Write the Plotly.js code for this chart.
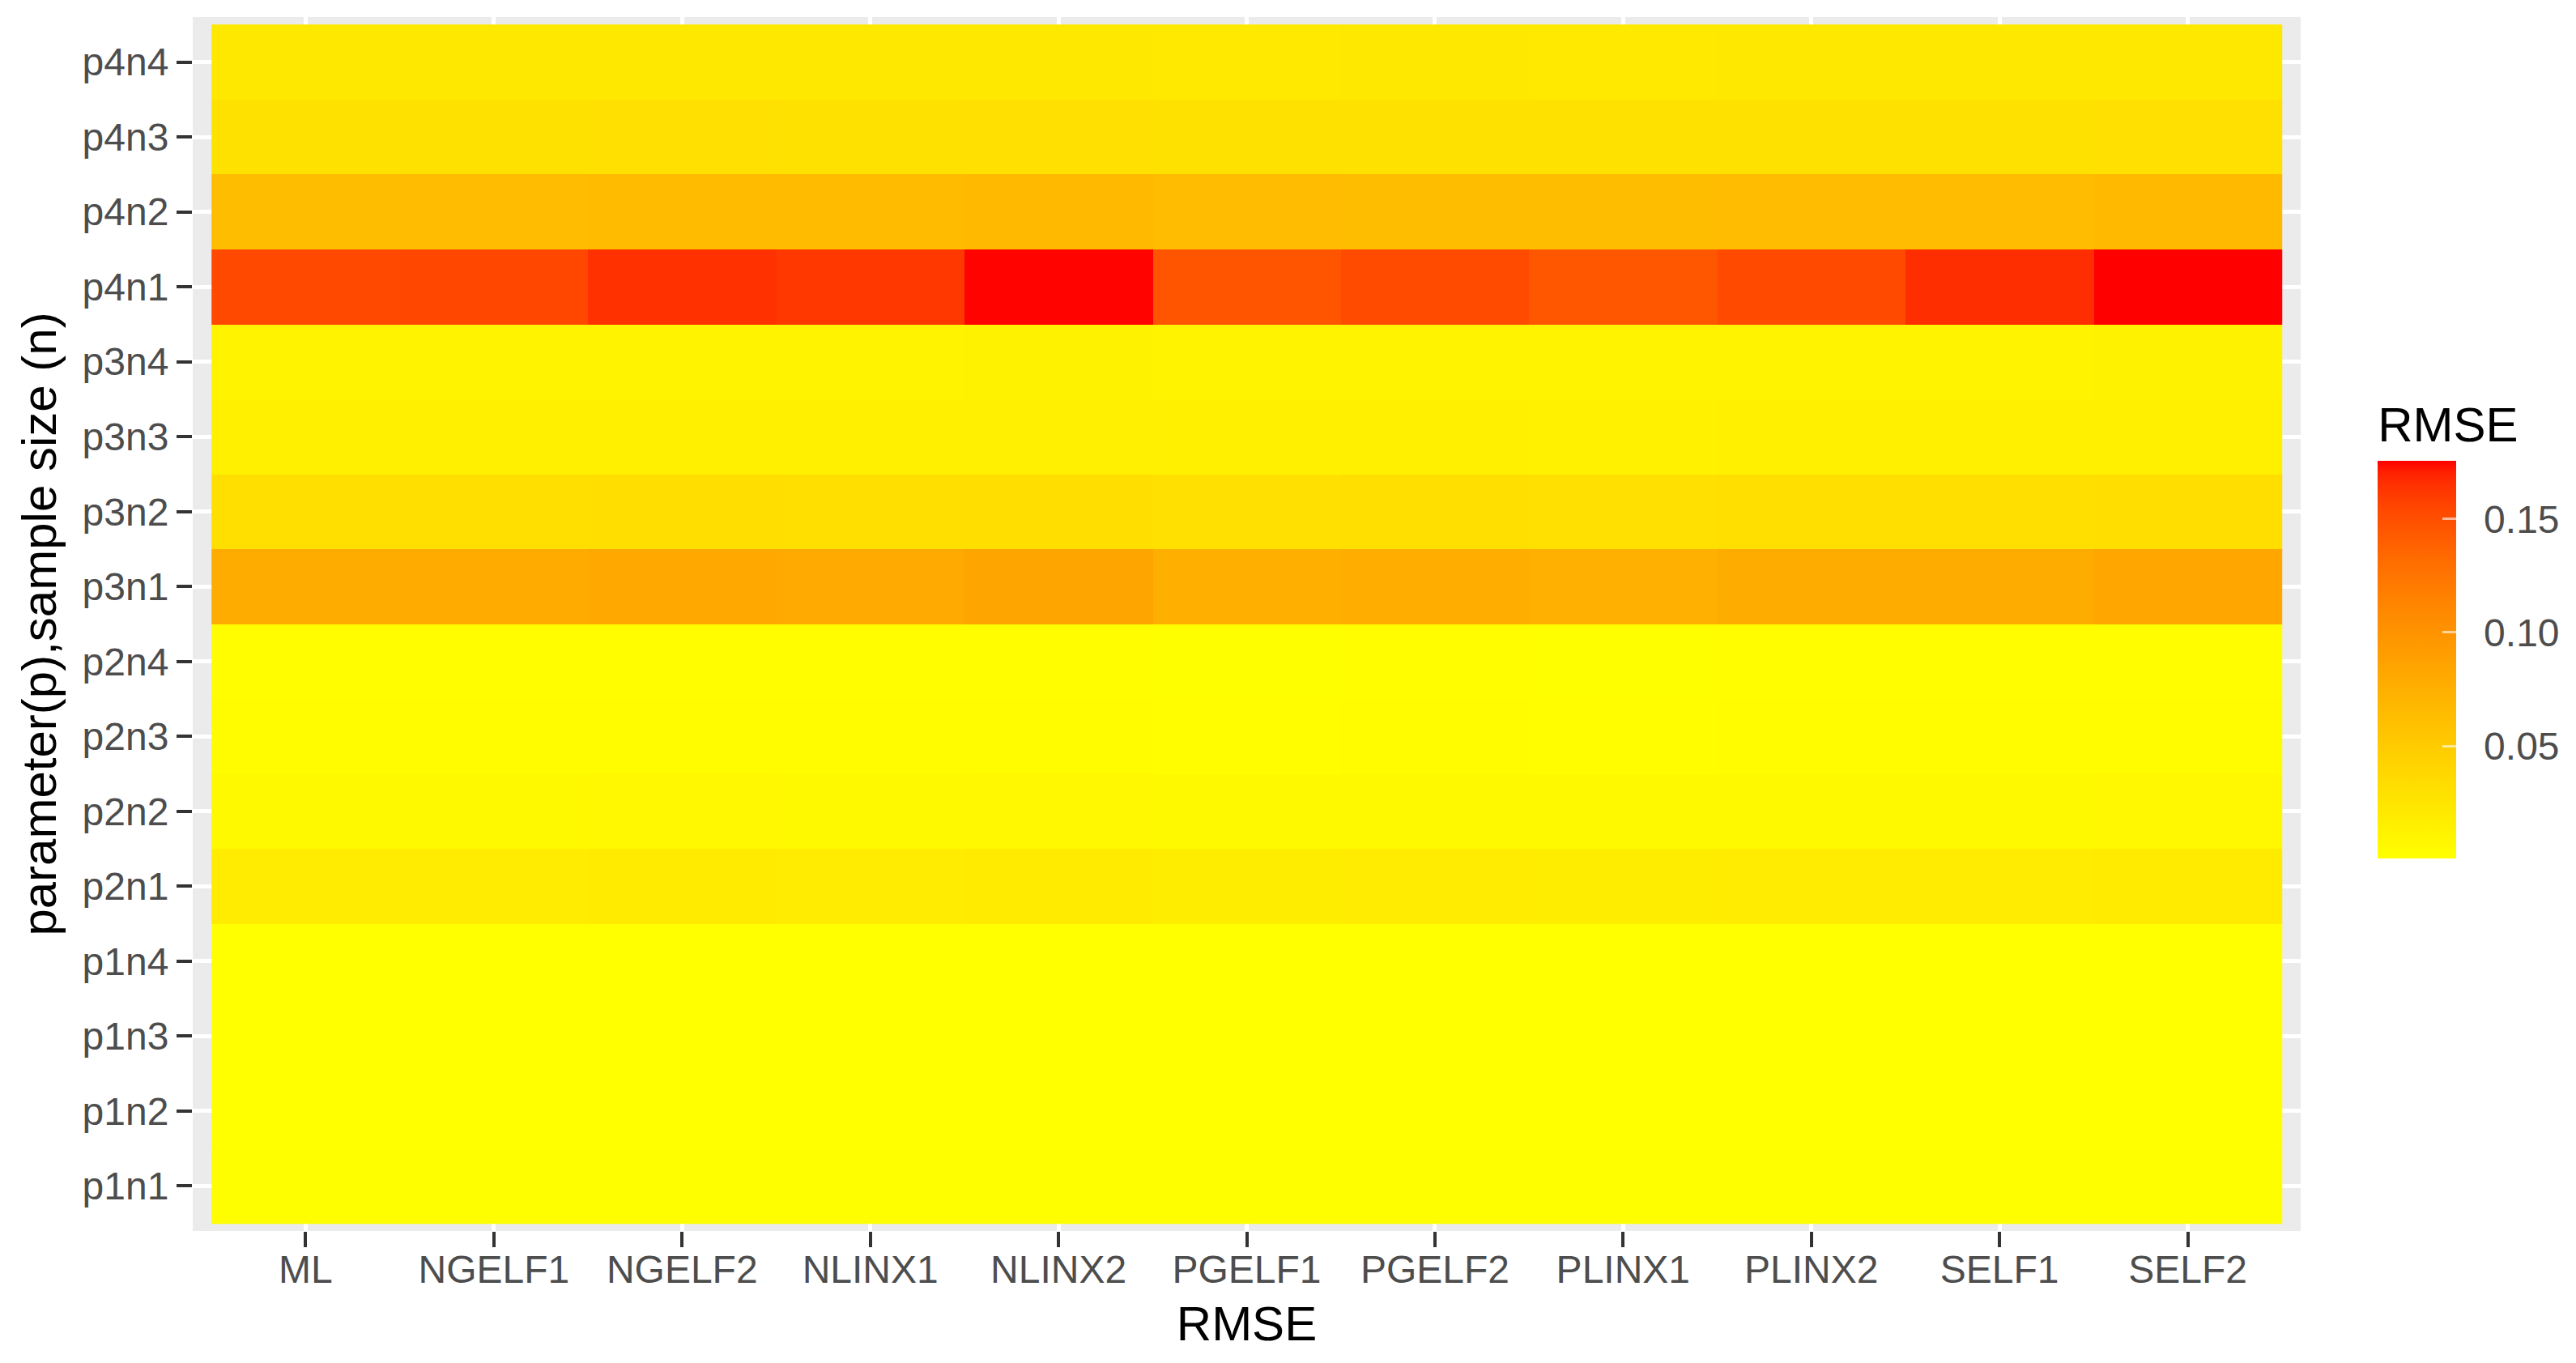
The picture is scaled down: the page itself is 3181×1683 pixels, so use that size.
<!DOCTYPE html>
<html>
<head>
<meta charset="utf-8">
<script src="https://cdn.plot.ly/plotly-3.0.1.min.js"></script>
<style>
  html, body { margin: 0; padding: 0; background: #ffffff; }
  #chart { width: 3181px; height: 1683px; }
</style>
</head>
<body>
<div id="chart"></div>
<script>
// Methods (x categories)
const methods = ["ML", "NGELF1", "NGELF2", "NLINX1", "NLINX2", "PGELF1", "PGELF2", "PLINX1", "PLINX2", "SELF1", "SELF2"];
// Row labels, bottom to top
const rowLabels = ["p1n1", "p1n2", "p1n3", "p1n4", "p2n1", "p2n2", "p2n3", "p2n4", "p3n1", "p3n2", "p3n3", "p3n4", "p4n1", "p4n2", "p4n3", "p4n4"];

// RMSE values per row (estimated from colours)
const p1n1 = [0.0012, 0.0011, 0.0012, 0.0011, 0.0013, 0.0010, 0.0011, 0.0010, 0.0011, 0.0011, 0.0012];
const p1n2 = [0.0009, 0.0008, 0.0009, 0.0008, 0.0009, 0.0008, 0.0008, 0.0008, 0.0008, 0.0008, 0.0009];
const p1n3 = [0.0007, 0.0007, 0.0007, 0.0007, 0.0007, 0.0006, 0.0006, 0.0006, 0.0006, 0.0007, 0.0007];
const p1n4 = [0.0006, 0.0005, 0.0006, 0.0005, 0.0006, 0.0005, 0.0005, 0.0005, 0.0005, 0.0005, 0.0006];
const p2n1 = [0.0184, 0.0190, 0.0196, 0.0190, 0.0194, 0.0180, 0.0182, 0.0178, 0.0184, 0.0190, 0.0192];
const p2n2 = [0.0064, 0.0066, 0.0068, 0.0066, 0.0068, 0.0062, 0.0063, 0.0061, 0.0063, 0.0065, 0.0067];
const p2n3 = [0.0029, 0.0030, 0.0031, 0.0030, 0.0031, 0.0028, 0.0029, 0.0028, 0.0029, 0.0030, 0.0031];
const p2n4 = [0.0020, 0.0021, 0.0022, 0.0021, 0.0022, 0.0019, 0.0020, 0.0019, 0.0020, 0.0021, 0.0022];
const p3n1 = [0.0784, 0.0793, 0.0820, 0.0802, 0.0846, 0.0758, 0.0767, 0.0749, 0.0784, 0.0784, 0.0837];
const p3n2 = [0.0305, 0.0310, 0.0316, 0.0312, 0.0318, 0.0302, 0.0305, 0.0300, 0.0308, 0.0310, 0.0316];
const p3n3 = [0.0146, 0.0148, 0.0152, 0.0149, 0.0154, 0.0143, 0.0145, 0.0142, 0.0146, 0.0148, 0.0152];
const p3n4 = [0.0118, 0.0120, 0.0123, 0.0121, 0.0125, 0.0116, 0.0118, 0.0115, 0.0119, 0.0120, 0.0124];
const p4n1 = [0.1541, 0.1545, 0.1650, 0.1620, 0.1752, 0.1462, 0.1525, 0.1450, 0.1530, 0.1660, 0.1756];
const p4n2 = [0.0633, 0.0642, 0.0652, 0.0652, 0.0662, 0.0642, 0.0633, 0.0633, 0.0642, 0.0642, 0.0662];
const p4n3 = [0.0292, 0.0295, 0.0298, 0.0295, 0.0300, 0.0290, 0.0292, 0.0290, 0.0293, 0.0295, 0.0300];
const p4n4 = [0.0220, 0.0222, 0.0225, 0.0222, 0.0226, 0.0218, 0.0220, 0.0218, 0.0221, 0.0222, 0.0226];

const rowsData = [p1n1, p1n2, p1n3, p1n4, p2n1, p2n2, p2n3, p2n4, p3n1, p3n2, p3n3, p3n4, p4n1, p4n2, p4n3, p4n4];

const cbTickVals = [0.05, 0.10, 0.15];
const cbTickText = ["0.05", "0.10", "0.15"];

// yellow -> red gradient interpolated in Lab space (as ggplot does)
const colorscale = [
  [0.0, "rgb(255,255,0)"],
  [0.125, "rgb(255,232,0)"],
  [0.25, "rgb(255,209,0)"],
  [0.375, "rgb(255,186,0)"],
  [0.5, "rgb(255,161,0)"],
  [0.625, "rgb(255,136,0)"],
  [0.75, "rgb(255,108,0)"],
  [0.875, "rgb(255,73,0)"],
  [0.9375, "rgb(255,50,0)"],
  [0.97, "rgb(255,33,0)"],
  [1.0, "rgb(255,0,0)"]
];

const FONT = "Liberation Sans, Arial, Helvetica, sans-serif";

const trace = {
  type: "heatmap",
  x: methods,
  y: rowLabels,
  z: rowsData,
  colorscale: colorscale,
  zsmooth: false,
  xgap: 0,
  ygap: 0,
  showscale: true,
  colorbar: {
    title: { text: "RMSE", side: "top", font: { size: 60, color: "#000000", family: FONT } },
    thickness: 97,
    thicknessmode: "pixels",
    len: 563,
    lenmode: "pixels",
    x: 1.0366,
    xanchor: "left",
    xpad: 0,
    y: 0.4947,
    yanchor: "middle",
    ypad: 0,
    outlinewidth: 0,
    borderwidth: 0,
    tickmode: "array",
    tickvals: cbTickVals,
    ticktext: cbTickText.map(function (t) { return "\u2002" + t; }),
    ticks: "inside",
    ticklen: 17,
    tickwidth: 3,
    tickcolor: "rgba(255,255,255,0.6)",
    tickfont: { size: 48, color: "#4D4D4D", family: FONT }
  }
};

const layout = {
  width: 3181,
  height: 1683,
  paper_bgcolor: "#ffffff",
  plot_bgcolor: "#EBEBEB",
  font: { family: FONT },
  margin: { l: 238, r: 340, t: 21, b: 163, pad: 0, autoexpand: false },
  showlegend: false,
  xaxis: {
    type: "category",
    categoryorder: "array",
    categoryarray: methods,
    range: [-0.6, 10.6],
    showgrid: true,
    gridcolor: "#ffffff",
    gridwidth: 5,
    zeroline: false,
    showline: false,
    ticks: "outside",
    ticklen: 19,
    tickwidth: 4,
    tickcolor: "#333333",
    ticklabelstandoff: -14,
    tickfont: { size: 48, color: "#4D4D4D", family: FONT },
    automargin: false,
    title: { text: "RMSE", font: { size: 60, color: "#000000", family: FONT }, standoff: 20 }
  },
  yaxis: {
    type: "category",
    categoryorder: "array",
    categoryarray: rowLabels,
    range: [-0.6, 15.6],
    showgrid: true,
    gridcolor: "#ffffff",
    gridwidth: 5,
    zeroline: false,
    showline: false,
    ticks: "outside",
    ticklen: 19,
    tickwidth: 4,
    tickcolor: "#333333",
    tickfont: { size: 48, color: "#4D4D4D", family: FONT },
    automargin: false,
    title: { text: "parameter(p),sample size (n)", font: { size: 60, color: "#000000", family: FONT }, standoff: 12 }
  }
};

Plotly.newPlot("chart", [trace], layout, { displayModeBar: false, staticPlot: true });
</script>
</body>
</html>
